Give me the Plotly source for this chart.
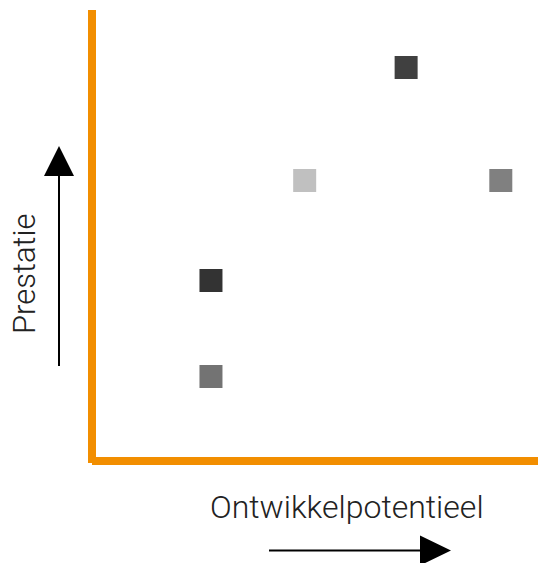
import plotly.graph_objects as go

# ---- data ----
potential = [1.0, 1.0, 1.97, 3.02, 4.0]          # Ontwikkelpotentieel
performance = [1.0, 1.96, 2.96, 4.09, 2.96]      # Prestatie
colors = ["#737373", "#333333", "#c0c0c0", "#404040", "#808080"]
x_title = "Ontwikkelpotentieel"
y_title = "Prestatie"

W, H = 538, 563
L, R, T, B = 96, 0, 10, 106
PW, PH = W - L - R, H - T - B
ORANGE = "#F28E00"


def px(xp):
    return (xp - L) / PW


def py(yp):
    return (H - B - yp) / PH


fig = go.Figure(
    go.Scatter(
        x=potential,
        y=performance,
        mode="markers",
        marker=dict(symbol="square", size=23, color=colors, line=dict(width=0)),
        hoverinfo="skip",
    )
)

shapes = [
    # orange axes
    dict(type="rect", xref="paper", yref="paper", x0=px(88), x1=px(96), y0=py(463), y1=py(10),
         fillcolor=ORANGE, line=dict(width=0), layer="below"),
    dict(type="rect", xref="paper", yref="paper", x0=px(92), x1=px(538), y0=py(465), y1=py(457),
         fillcolor=ORANGE, line=dict(width=0), layer="below"),
    # up arrow
    dict(type="line", xref="paper", yref="paper", x0=px(59), x1=px(59), y0=py(366), y1=py(174),
         line=dict(color="black", width=2)),
    dict(type="path", xref="paper", yref="paper",
         path=f"M {px(44)} {py(176)} L {px(74)} {py(176)} L {px(59)} {py(146)} Z",
         fillcolor="black", line=dict(width=0)),
    # right arrow
    dict(type="line", xref="paper", yref="paper", x0=px(269), x1=px(423), y0=py(550.5), y1=py(550.5),
         line=dict(color="black", width=2)),
    dict(type="path", xref="paper", yref="paper",
         path=f"M {px(420)} {py(535.5)} L {px(420)} {py(565.5)} L {px(451)} {py(550.5)} Z",
         fillcolor="black", line=dict(width=0)),
]

font_x = dict(family="Roboto, 'Open Sans', sans-serif", size=32, color="#222222", weight=300)
font_y = dict(family="Roboto, 'Open Sans', sans-serif", size=31, color="#222222", weight=300)

annotations = [
    dict(text=x_title, xref="paper", yref="paper", x=px(346.5), y=py(507), xanchor="center",
         yanchor="middle", showarrow=False, font=font_x),
    dict(text=y_title, xref="paper", yref="paper", x=px(24), y=py(274), xanchor="center",
         yanchor="middle", showarrow=False, textangle=-90, font=font_y),
]

fig.update_layout(
    width=W, height=H,
    margin=dict(l=L, r=R, t=T, b=B, pad=0),
    paper_bgcolor="white", plot_bgcolor="white",
    showlegend=False,
    xaxis=dict(range=[-0.19, 4.385], showgrid=False, zeroline=False, showticklabels=False,
               showline=False, ticks=""),
    yaxis=dict(range=[0.195, 4.665], showgrid=False, zeroline=False, showticklabels=False,
               showline=False, ticks=""),
    shapes=shapes,
    annotations=annotations,
)

fig.write_html(
    "out.html",
    config={"displayModeBar": False, "staticPlot": True},
    post_script="document.body.style.margin='0';document.body.style.overflow='hidden';",
)
